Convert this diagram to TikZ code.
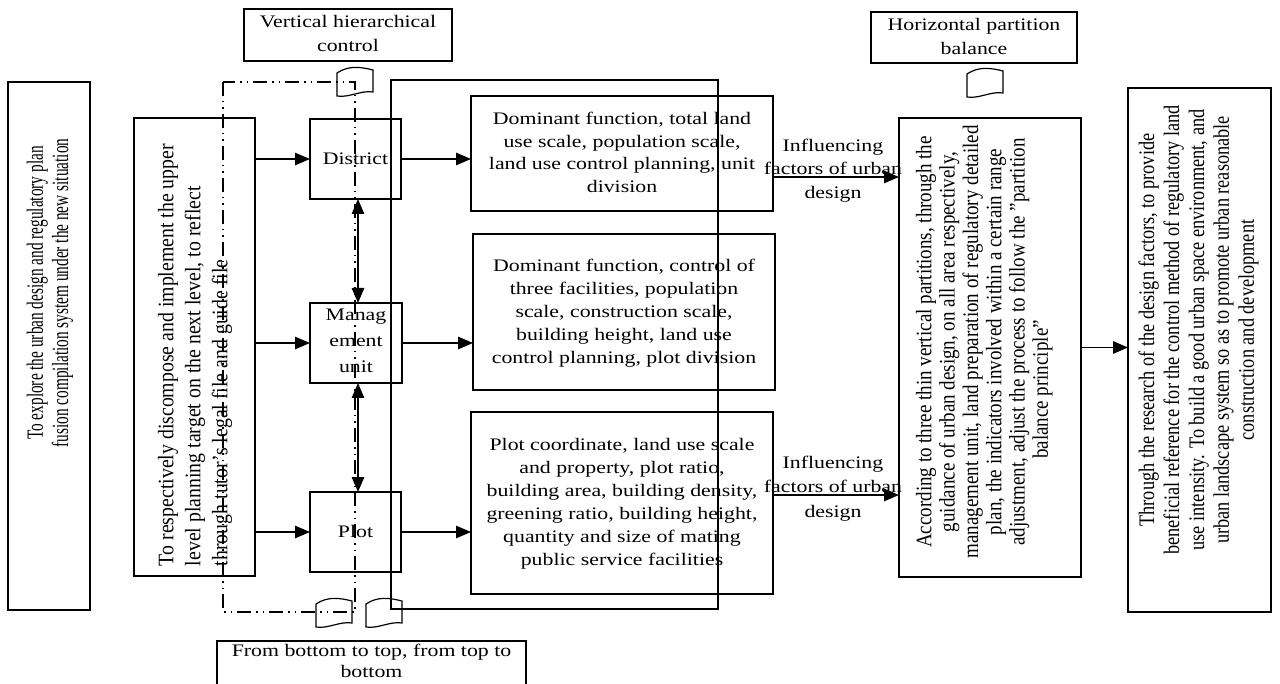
\documentclass[tikz,border=0pt]{standalone}
\usepackage{fontspec}
\setmainfont{Liberation Serif}
\usepackage{graphicx}
\usetikzlibrary{arrows.meta,calc}

% horizontal text block: optional baselineskip, lines separated by \\
\newcommand{\htxt}[2][23]{\scalebox{1.24}[1]{\fontsize{17.6}{#1}\selectfont\begin{tabular}{@{}c@{}}#2\end{tabular}}}
% vertical text block: along-scale, across-scale, baselineskip, column type, lines
\newcommand{\vtxt}[5]{\rotatebox{90}{\scalebox{#1}[#2]{\fontsize{17.6}{#3}\selectfont\begin{tabular}{@{}#4@{}}#5\end{tabular}}}}

\begin{document}
\begin{tikzpicture}[x=1pt,y=-1pt,
  box/.style={draw, line width=1.3pt, inner sep=0pt, outer sep=0pt},
  txt/.style={inner sep=0pt, outer sep=0pt},
  tip/.tip={Triangle[length=15pt,width=12.5pt]},
  arr/.style={line width=1.3pt, -tip},
  darr/.style={line width=1.3pt, tip-tip},
  dashdot/.style={line width=1.2pt, dash pattern=on 14pt off 5pt on 1.5pt off 5pt on 1.5pt off 5pt},
  tape/.pic={\draw[line width=1.2pt] (0,5) .. controls (12,-3) and (24,-1) .. (36,2) -- (36,24) .. controls (24,22) and (12,30) .. (0,28) -- cycle;}]
\useasboundingbox (0,0) rectangle (1280,684);
\clip (0,0) rectangle (1280,684);

% ---------- boxes ----------
\node[box, minimum width=82pt,  minimum height=528pt] (L1) at (49,346) {};
\node[box, minimum width=121pt, minimum height=458pt] (L2) at (194.5,347) {};
\node[box, minimum width=91pt,  minimum height=80pt]  (D)  at (355.5,159) {};
\node[box, minimum width=92pt,  minimum height=80pt]  (M)  at (356,343) {};
\node[box, minimum width=91pt,  minimum height=80pt]  (P)  at (355.5,532) {};
\node[box, minimum width=302pt, minimum height=115pt] (A)  at (622,153.5) {};
\node[box, minimum width=302pt, minimum height=156pt] (B)  at (624,312) {};
\node[box, minimum width=302pt, minimum height=182pt] (C)  at (622,503) {};
\node[box, minimum width=182pt, minimum height=459pt] (G)  at (990,347.5) {};
\node[box, minimum width=143pt, minimum height=524pt] (H)  at (1199.5,350) {};
\node[box, minimum width=208pt, minimum height=52pt]  (V)  at (348,35) {};
\node[box, minimum width=206pt, minimum height=51pt]  (Hz) at (974,37.5) {};
\node[box, minimum width=309pt, minimum height=49pt]  (F)  at (371.5,665.5) {};

% ---------- texts ----------
\node[txt] (L1t) at (50.5,293) {\vtxt{0.87}{1.32}{19}{c}{To explore the urban design and regulatory plan\\fusion compilation system under the new situation}};
\node[txt, anchor=south] (L2t) at (195,566) {\vtxt{1.125}{1.26}{21.4}{l}{To respectively discompose and implement the upper\\level planning target on the next level, to reflect\\through tutor’s legal file and guide file}};
\node[txt] (Dt) at (355.5,160) {\htxt{District}};
\node[txt] (Mt) at (356,341) {\htxt[26]{Manag\\ement\\unit}};
\node[txt] (Pt) at (355.5,533) {\htxt{Plot}};
\node[txt] (At) at (622,154) {\htxt[22.4]{Dominant function, total land\\use scale, population scale,\\land use control planning, unit\\division}};
\node[txt] (Bt) at (624,313) {\htxt{Dominant function, control of\\three facilities, population\\scale, construction scale,\\building height, land use\\control planning, plot division}};
\node[txt] (Ct) at (622,503) {\htxt{Plot coordinate, land use scale\\and property, plot ratio,\\building area, building density,\\greening ratio, building height,\\quantity and size of mating\\public service facilities}};
\node[txt] (I1) at (833,170) {\htxt[23.5]{Influencing\\factors of urban\\design}};
\node[txt] (I2) at (833,488) {\htxt[24.5]{Influencing\\factors of urban\\design}};
\node[txt] (Gt) at (985,342) {\vtxt{1.08}{1.26}{18.5}{c}{According to three thin vertical partitions, through the\\guidance of urban design, on all area respectively,\\management unit, land preparation of regulatory detailed\\plan, the indicators involved within a certain range\\adjustment, adjust the process to follow the "partition\\\hspace*{-88pt}balance principle”}};
\node[txt] (Ht) at (1199,330) {\vtxt{1.04}{1.26}{19.8}{c}{Through the research of the design factors, to provide\\beneficial reference for the control method of regulatory land\\use intensity. To build a good urban space environment, and\\urban landscape system so as to promote urban reasonable\\construction and development}};
\node[txt] (Vt) at (348,35) {\htxt[24]{Vertical hierarchical\\control}};
\node[txt] (Hzt) at (974,37.5) {\htxt[24]{Horizontal partition\\balance}};
\node[txt] (Ft) at (371.5,662.5) {\htxt[21]{From bottom to top, from top to\\bottom}};

% ---------- connectors ----------
\coordinate (ya) at (0,177);
\coordinate (yc) at (0,495);
\coordinate (vx) at (358,0);
\draw[arr] (L2.east |- D.west) -- (D.west);
\draw[arr] (L2.east |- M.west) -- (M.west);
\draw[arr] (L2.east |- P.west) -- (P.west);
\draw[arr] (D.east) -- (D.east -| A.west);
\draw[arr] (M.east) -- (M.east -| B.west);
\draw[arr] (P.east) -- (P.east -| C.west);
\draw[arr] (A.east |- ya) -- (G.west |- ya);
\draw[arr] (C.east |- yc) -- (G.west |- yc);
\draw[arr] (G.east) -- (G.east -| H.west);
\draw[darr] (D.south -| vx) -- (M.north -| vx);
\draw[darr] (M.south -| vx) -- (P.north -| vx);

% ---------- enclosing frame, tapes and dash-dot frame ----------
\node[box, minimum width=327pt, minimum height=529pt] (R) at (554.5,344.5) {};
\pic at (337,68) {tape};
\pic at (967,69) {tape};
\pic at (316,599) {tape};
\pic at (366,599) {tape};
\draw[dashdot] (223,82) rectangle (355,612);
\end{tikzpicture}
\end{document}
